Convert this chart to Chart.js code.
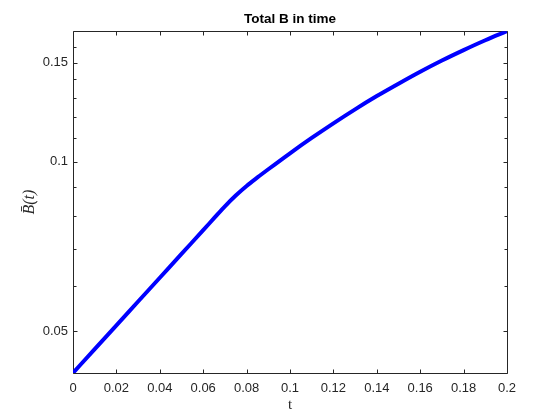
<!DOCTYPE html>
<html>
<head>
<meta charset="utf-8">
<script src="https://cdn.jsdelivr.net/npm/chart.js@4"></script>
<style>
  html, body { margin: 0; padding: 0; background: #ffffff; }
  #wrap { width: 560px; height: 420px; }
</style>
</head>
<body>
<div id="wrap"><canvas id="c" width="560" height="420"></canvas></div>
<script>
// ---- data ----
const tValues = [0, 0.01, 0.02, 0.03, 0.04, 0.05, 0.06, 0.065, 0.07, 0.075, 0.08, 0.085, 0.09,
                 0.10, 0.11, 0.12, 0.13, 0.14, 0.15, 0.16, 0.17, 0.18, 0.19, 0.20];
const bValues = [0.0421, 0.04643, 0.05117, 0.05641, 0.06218, 0.06855, 0.07554, 0.07934, 0.08331, 0.08707,
                 0.09055, 0.09375, 0.09694, 0.1035, 0.1102, 0.1170, 0.1239, 0.1308, 0.1376, 0.1445,
                 0.1513, 0.1579, 0.1644, 0.1706];
const xTickValues = [0, 0.02, 0.04, 0.06, 0.08, 0.1, 0.12, 0.14, 0.16, 0.18, 0.2];
const xTickLabels = ['0', '0.02', '0.04', '0.06', '0.08', '0.1', '0.12', '0.14', '0.16', '0.18', '0.2'];
const yTickValues = [0.05, 0.1, 0.15];
const yTickLabels = ['0.05', '0.1', '0.15'];
const yMinorTickValues = [0.06, 0.07, 0.08, 0.09, 0.11, 0.12, 0.13, 0.14, 0.16];
const xRange = [0, 0.2];
const yRange = [0.0421, 0.1706];

const titleText = 'Total B in time';
const xLabel = 't';
const yLabel = 'B\u0304(t)';

const AXIS = '#262626';

const axesBox = {
  id: 'axesBox',
  beforeDatasetsDraw(chart) {
    const { ctx, chartArea: a, scales: { x, y } } = chart;
    const L = Math.round(a.left) + 0.5, R = Math.round(a.right) + 0.5;
    const T = Math.round(a.top) + 0.5, B = Math.round(a.bottom) + 0.5;
    ctx.save();
    ctx.strokeStyle = AXIS;
    ctx.lineWidth = 1;
    ctx.beginPath();
    ctx.rect(L, T, R - L, B - T);
    const major = 4, minor = 3;
    x.ticks.forEach(t => {
      const px = Math.round(x.getPixelForValue(t.value)) + 0.5;
      ctx.moveTo(px, B); ctx.lineTo(px, B - major);
      ctx.moveTo(px, T); ctx.lineTo(px, T + major);
    });
    y.ticks.forEach(t => {
      const py = Math.round(y.getPixelForValue(t.value)) + 0.5;
      ctx.moveTo(L, py); ctx.lineTo(L + major, py);
      ctx.moveTo(R, py); ctx.lineTo(R - major, py);
    });
    yMinorTickValues.forEach(v => {
      const py = Math.round(y.getPixelForValue(v)) + 0.5;
      if (py < T || py > B) return;
      ctx.moveTo(L, py); ctx.lineTo(L + minor, py);
      ctx.moveTo(R, py); ctx.lineTo(R - minor, py);
    });
    ctx.stroke();
    ctx.restore();
  }
};

new Chart(document.getElementById('c'), {
  type: 'line',
  data: {
    datasets: [{
      data: tValues.map((t, i) => ({ x: t, y: bValues[i] })),
      borderColor: '#0000ff',
      backgroundColor: '#0000ff',
      borderWidth: 4,
      pointRadius: 0,
      fill: false,
      cubicInterpolationMode: 'monotone',
      borderCapStyle: 'round',
      borderJoinStyle: 'round'
    }]
  },
  options: {
    responsive: false,
    animation: false,
    devicePixelRatio: 1,
    layout: { padding: { left: 20, right: 0, top: 0, bottom: 0 } },
    plugins: {
      legend: { display: false },
      tooltip: { enabled: false },
      title: {
        display: true,
        text: titleText,
        color: '#000000',
        font: { family: '"Liberation Sans", Arial, sans-serif', size: 13.5, weight: 'bold' },
        padding: { top: 11, bottom: 4 }
      }
    },
    scales: {
      x: {
        type: 'linear',
        min: xRange[0],
        max: xRange[1],
        grid: { display: false, drawTicks: false },
        border: { display: false },
        afterBuildTicks: s => { s.ticks = xTickValues.map(v => ({ value: v })); },
        afterFit: s => { s.height = 47; },
        ticks: {
          color: AXIS,
          padding: 8,
          maxRotation: 0,
          autoSkip: false,
          font: { family: '"Liberation Sans", Arial, sans-serif', size: 13 },
          callback: (v) => { const i = xTickValues.findIndex(t => Math.abs(t - v) < 1e-9); return i >= 0 ? xTickLabels[i] : ''; }
        },
        title: {
          display: true,
          text: xLabel,
          color: AXIS,
          font: { family: '"Liberation Serif", "Times New Roman", serif', size: 15 },
          padding: { top: 0, bottom: 6 }
        }
      },
      y: {
        type: 'logarithmic',
        position: 'left',
        min: yRange[0],
        max: yRange[1],
        grid: { display: false, drawTicks: false },
        border: { display: false },
        afterBuildTicks: s => { s.ticks = yTickValues.map(v => ({ value: v })); },
        afterFit: s => { s.width = 53; },
        ticks: {
          color: AXIS,
          padding: 5,
          autoSkip: false,
          font: { family: '"Liberation Sans", Arial, sans-serif', size: 13 },
          callback: (v) => { const i = yTickValues.findIndex(t => Math.abs(t - v) < 1e-9); return i >= 0 ? yTickLabels[i] : ''; }
        },
        title: {
          display: true,
          text: yLabel,
          color: AXIS,
          font: { family: '"Liberation Serif", "Times New Roman", serif', size: 16, style: 'italic' },
          padding: { top: 0, bottom: 0 }
        }
      },
      yRight: {
        type: 'linear',
        position: 'right',
        display: true,
        grid: { display: false, drawTicks: false },
        border: { display: false },
        ticks: { display: false },
        afterFit: s => { s.width = 53; }
      }
    }
  },
  plugins: [axesBox]
});
</script>
</body>
</html>
